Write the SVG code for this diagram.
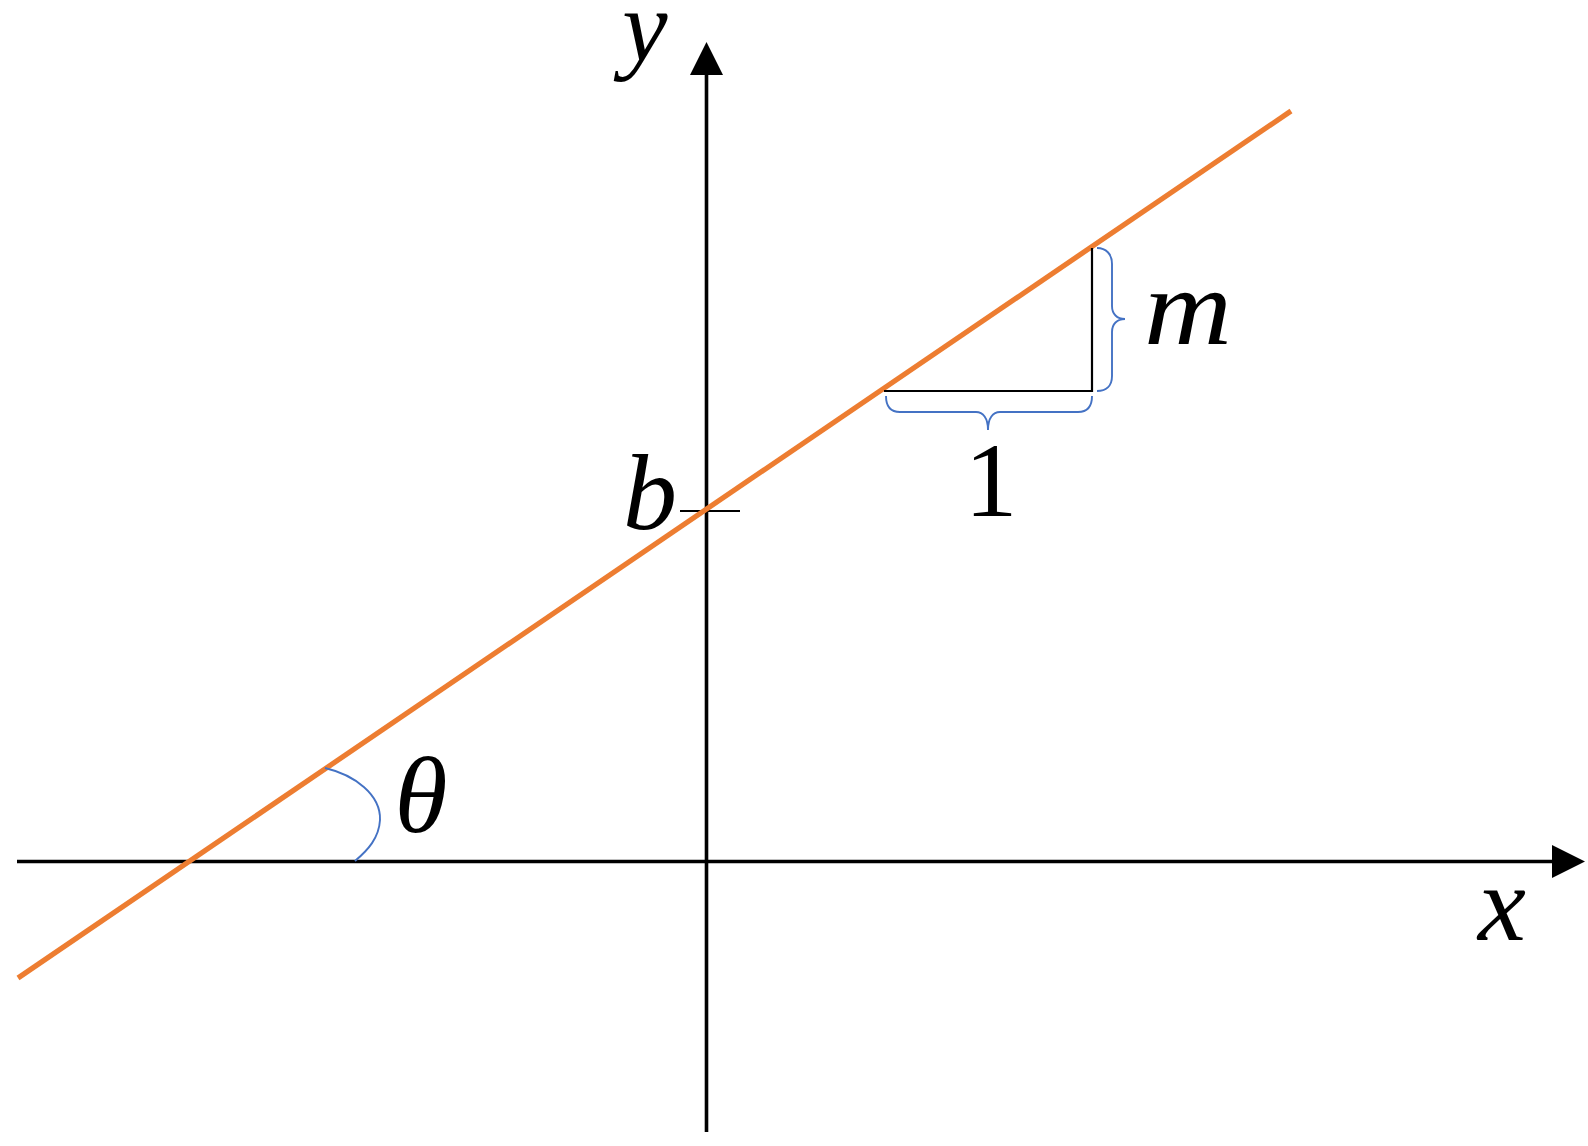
<svg xmlns="http://www.w3.org/2000/svg" width="1588" height="1146" viewBox="0 0 1588 1146">
<style>
.axis{stroke:#000;stroke-width:3.6;fill:none}
.thin{stroke:#000;stroke-width:2.2;fill:none}
.blue{stroke:#4472C4;stroke-width:1.9;fill:none}
.line{stroke:#ED7D31;stroke-width:5.2;fill:none}
.lbl{font-family:"Liberation Serif","Times New Roman",serif;font-style:italic;font-size:108px;fill:#000;text-anchor:middle}
.num{font-family:"Liberation Serif","Times New Roman",serif;font-size:106px;fill:#000;text-anchor:middle}
</style>
<rect width="1588" height="1146" fill="#fff"/>
<g id="connectors">
<line class="axis" x1="17" y1="861.5" x2="1553" y2="861.5"/>
<polygon points="1552,845 1585,861.5 1552,878" fill="#000"/>
<line class="axis" x1="706.5" y1="1132" x2="706.5" y2="73"/>
<polygon points="690,75 706.5,42 723,75" fill="#000"/>
<line class="thin" x1="680" y1="511" x2="740" y2="511"/>
<line class="line" x1="18" y1="978" x2="1291" y2="111"/>
<polyline class="thin" points="884,391 1092,391 1092,248"/>
<path class="blue" d="M886,396 C886,406 890,412 900,412 L976,412 C983,412 988,418 988,430 C988,418 993,412 1000,412 L1078,412 C1088,412 1092,406 1092,396"/>
<path class="blue" d="M1097,248 C1106,248 1112,254 1112,264 L1112,306 C1112,314 1117,319 1125,319 C1117,319 1112,324 1112,332 L1112,376 C1112,386 1106,391 1097,391"/>
<path class="blue" d="M325,768 C355,775 381,795 380,820 C379,838 368,850 355,861"/>
</g>
<g id="label-y"><text class="lbl" x="645" y="60" style="font-size:102px">y</text></g>
<g id="label-x"><text class="lbl" x="1502" y="940">x</text></g>
<g id="label-b"><text class="lbl" x="650" y="529">b</text></g>
<g id="label-m"><text class="lbl" x="1188" y="344" textLength="88" lengthAdjust="spacingAndGlyphs">m</text></g>
<g id="label-theta"><text class="lbl" x="421" y="832">θ</text></g>
<g id="label-1"><text class="num" x="991" y="516">1</text></g>
</svg>
